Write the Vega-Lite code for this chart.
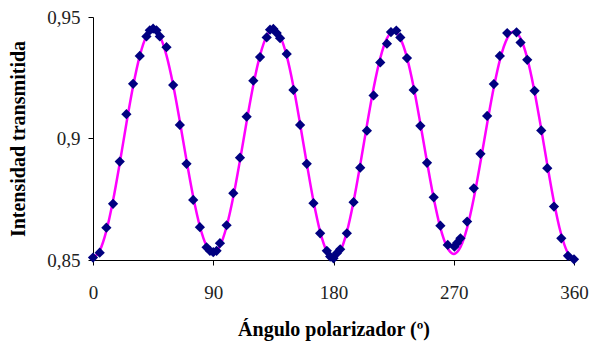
{
  "$schema": "https://vega.github.io/schema/vega-lite/v6.json",
  "autosize": "none",
  "width": 481,
  "height": 243,
  "padding": {"left": 93, "top": 17, "right": 17, "bottom": 85},
  "background": "white",
  "config": {
    "view": {"stroke": null},
    "axis": {
      "grid": false,
      "domainColor": "#000000",
      "domainWidth": 1,
      "tickColor": "#000000",
      "tickSize": 5,
      "labelFont": "Liberation Serif",
      "labelFontSize": 19,
      "labelColor": "#222222",
      "titleFont": "Liberation Serif",
      "titleFontSize": 20,
      "titleFontWeight": "bold",
      "titleColor": "#000000"
    }
  },
  "datasets": {
    "pts": [
      {"x": 0, "y": 0.851}, {"x": 5, "y": 0.853}, {"x": 10, "y": 0.8633}, {"x": 15, "y": 0.8731},
      {"x": 20, "y": 0.8905}, {"x": 25, "y": 0.910}, {"x": 30, "y": 0.9225}, {"x": 35, "y": 0.934},
      {"x": 40, "y": 0.942}, {"x": 42.5, "y": 0.9445}, {"x": 45, "y": 0.9452}, {"x": 47.5, "y": 0.9445},
      {"x": 50, "y": 0.942}, {"x": 55, "y": 0.9376}, {"x": 60, "y": 0.922}, {"x": 65, "y": 0.9056},
      {"x": 70, "y": 0.8896}, {"x": 75, "y": 0.8747}, {"x": 80, "y": 0.8635}, {"x": 85, "y": 0.8552},
      {"x": 87.5, "y": 0.8538}, {"x": 90, "y": 0.8532}, {"x": 92.5, "y": 0.8538}, {"x": 95, "y": 0.8569},
      {"x": 100, "y": 0.8643}, {"x": 105, "y": 0.8775}, {"x": 110, "y": 0.8921}, {"x": 115, "y": 0.909},
      {"x": 120, "y": 0.9238}, {"x": 125, "y": 0.9335}, {"x": 130, "y": 0.9416}, {"x": 132.5, "y": 0.9448},
      {"x": 135, "y": 0.9451}, {"x": 137.5, "y": 0.9434}, {"x": 140, "y": 0.9413}, {"x": 145, "y": 0.9348},
      {"x": 150, "y": 0.920}, {"x": 155, "y": 0.9056}, {"x": 160, "y": 0.8896}, {"x": 165, "y": 0.8734},
      {"x": 170, "y": 0.861}, {"x": 175, "y": 0.8538}, {"x": 177.5, "y": 0.8514}, {"x": 180, "y": 0.8507},
      {"x": 182.5, "y": 0.8528}, {"x": 185, "y": 0.8544}, {"x": 190, "y": 0.861}, {"x": 195, "y": 0.8738},
      {"x": 200, "y": 0.888}, {"x": 205, "y": 0.9032}, {"x": 210, "y": 0.9177}, {"x": 215, "y": 0.9313},
      {"x": 220, "y": 0.939}, {"x": 223, "y": 0.9438}, {"x": 227, "y": 0.9444}, {"x": 230, "y": 0.9416},
      {"x": 235, "y": 0.9331}, {"x": 240, "y": 0.92}, {"x": 245, "y": 0.9052}, {"x": 250, "y": 0.890},
      {"x": 255, "y": 0.8758}, {"x": 260, "y": 0.8641}, {"x": 265.5, "y": 0.8562}, {"x": 270.5, "y": 0.8555},
      {"x": 272.5, "y": 0.857}, {"x": 275, "y": 0.8589}, {"x": 280, "y": 0.8658}, {"x": 285, "y": 0.8795},
      {"x": 290, "y": 0.8937}, {"x": 295, "y": 0.9093}, {"x": 300, "y": 0.9224}, {"x": 304.5, "y": 0.934},
      {"x": 310, "y": 0.9434}, {"x": 317, "y": 0.9437}, {"x": 320, "y": 0.9395}, {"x": 325, "y": 0.9324},
      {"x": 330.5, "y": 0.9196}, {"x": 335.5, "y": 0.9033}, {"x": 340, "y": 0.8878}, {"x": 345, "y": 0.8720},
      {"x": 350.5, "y": 0.8589}, {"x": 355.5, "y": 0.8517}, {"x": 360, "y": 0.8503}
    ],
    "curve": [
      {"x": 0, "y": 0.851}, {"x": 5, "y": 0.8538}, {"x": 10, "y": 0.862}, {"x": 15, "y": 0.8745},
      {"x": 20, "y": 0.8898}, {"x": 25, "y": 0.9062}, {"x": 30, "y": 0.9215}, {"x": 35, "y": 0.934},
      {"x": 40, "y": 0.9422}, {"x": 45, "y": 0.945}, {"x": 50, "y": 0.9422}, {"x": 55, "y": 0.9342},
      {"x": 60, "y": 0.922}, {"x": 65, "y": 0.907}, {"x": 70, "y": 0.891}, {"x": 75, "y": 0.876},
      {"x": 80, "y": 0.8638}, {"x": 85, "y": 0.8558}, {"x": 90, "y": 0.853}, {"x": 95, "y": 0.8558},
      {"x": 100, "y": 0.8638}, {"x": 105, "y": 0.876}, {"x": 110, "y": 0.891}, {"x": 115, "y": 0.907},
      {"x": 120, "y": 0.922}, {"x": 125, "y": 0.9342}, {"x": 130, "y": 0.9422}, {"x": 135, "y": 0.945},
      {"x": 140, "y": 0.9422}, {"x": 145, "y": 0.934}, {"x": 150, "y": 0.9214}, {"x": 155, "y": 0.906},
      {"x": 160, "y": 0.8897}, {"x": 165, "y": 0.8743}, {"x": 170, "y": 0.8617}, {"x": 175, "y": 0.8535},
      {"x": 180, "y": 0.8507}, {"x": 185, "y": 0.8535}, {"x": 190, "y": 0.8616}, {"x": 195, "y": 0.874},
      {"x": 200, "y": 0.8892}, {"x": 205, "y": 0.9054}, {"x": 210, "y": 0.9207}, {"x": 215, "y": 0.9331},
      {"x": 220, "y": 0.9412}, {"x": 225, "y": 0.944}, {"x": 230, "y": 0.9412}, {"x": 235, "y": 0.9333},
      {"x": 240, "y": 0.9211}, {"x": 245, "y": 0.9062}, {"x": 250, "y": 0.8903}, {"x": 255, "y": 0.8754},
      {"x": 260, "y": 0.8632}, {"x": 265, "y": 0.8553}, {"x": 270, "y": 0.8525}, {"x": 275, "y": 0.8553},
      {"x": 280, "y": 0.8632}, {"x": 285, "y": 0.8754}, {"x": 290, "y": 0.8903}, {"x": 295, "y": 0.9062},
      {"x": 300, "y": 0.9211}, {"x": 305, "y": 0.9333}, {"x": 310, "y": 0.9412}, {"x": 315, "y": 0.944},
      {"x": 320, "y": 0.9412}, {"x": 325, "y": 0.9331}, {"x": 330, "y": 0.9206}, {"x": 335, "y": 0.9054},
      {"x": 340, "y": 0.8892}, {"x": 345, "y": 0.8739}, {"x": 350, "y": 0.8614}, {"x": 355, "y": 0.8533},
      {"x": 360, "y": 0.8505}
    ]
  },
  "encoding": {
    "x": {
      "field": "x", "type": "quantitative",
      "scale": {"domain": [0, 360], "nice": false, "zero": false},
      "axis": {"values": [0, 90, 180, 270, 360], "title": "Ángulo polarizador (º)", "labelPadding": 18, "titlePadding": 17, "labelFlush": false}
    },
    "y": {
      "field": "y", "type": "quantitative",
      "scale": {"domain": [0.85, 0.95], "nice": false, "zero": false},
      "axis": {
        "values": [0.85, 0.9, 0.95],
        "labelExpr": "replace(format(datum.value, '.2~f'), '.', ',')",
        "title": "Intensidad transmitida",
        "labelPadding": 8,
        "titlePadding": 18,
        "labelFlush": false
      }
    }
  },
  "layer": [
    {
      "data": {"name": "curve"},
      "mark": {"type": "line", "color": "#FF00FF", "strokeWidth": 2.5, "interpolate": "monotone", "clip": false}
    },
    {
      "data": {"name": "pts"},
      "mark": {"type": "point", "shape": "diamond", "filled": true, "color": "#000080", "opacity": 1, "size": 105, "clip": false}
    }
  ]
}
